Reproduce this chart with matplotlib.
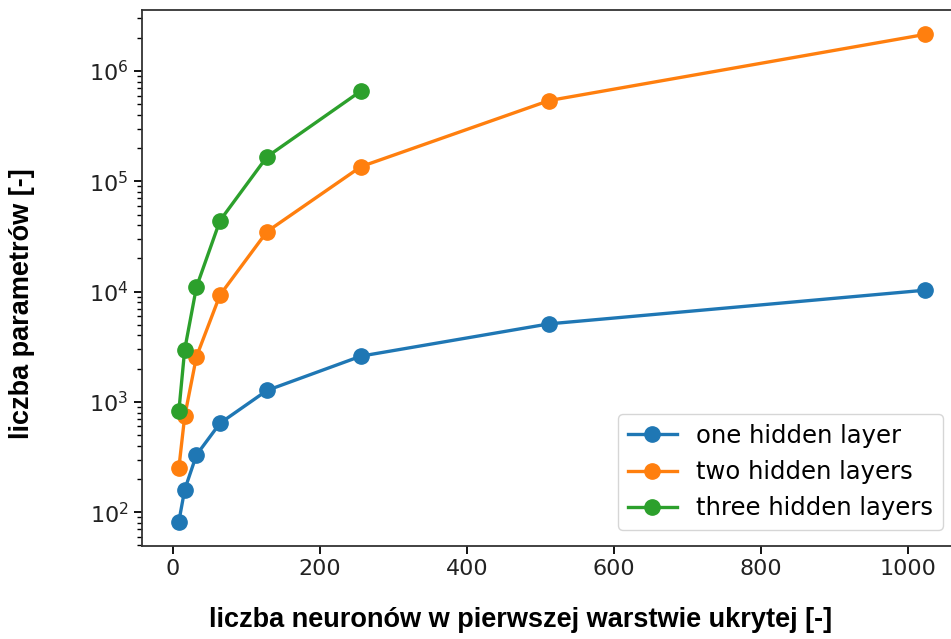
import matplotlib.pyplot as plt

neurons = [8, 16, 32, 64, 128, 256, 512, 1024]
one_layer = [82, 160, 330, 640, 1270, 2600, 5100, 10300]
two_layers = [250, 740, 2570, 9300, 35000, 136000, 540000, 2150000]
three_neurons = [8, 16, 32, 64, 128, 256]
three_layers = [820, 2980, 11000, 44000, 167000, 660000]

fig = plt.figure(figsize=(9.51, 6.39), dpi=100)
# the right edge of the axes sits just past the image border, as in the original crop
ax = fig.add_axes([0.1488, 0.1455, 0.8633, 0.8388])

style = dict(marker='o', markersize=11, linewidth=2.4)
ax.plot(neurons, one_layer, label='one hidden layer', **style)
ax.plot(neurons, two_layers, label='two hidden layers', **style)
ax.plot(three_neurons, three_layers, label='three hidden layers', **style)

ax.set_yscale('log')
ax.tick_params(axis='both', which='major', labelsize=16, length=6, width=1.3,
               labelcolor='#222222')
ax.tick_params(axis='y', which='minor', length=3.5, width=1.0)
for s in ax.spines.values():
    s.set_linewidth(1.3)
    s.set_color('#333333')

ax.set_xlabel('liczba neuronów w pierwszej warstwie ukrytej [-]', fontsize=19.5,
              fontweight='bold', family='Liberation Sans', va='center')
ax.set_ylabel('liczba parametrów [-]', fontsize=19.5, fontweight='bold',
              family='Liberation Sans', va='center')
ax.xaxis.set_label_coords(521 / 951, 1 - 620 / 639, transform=fig.transFigure)
ax.yaxis.set_label_coords(22.5 / 951, 1 - 303.5 / 639, transform=fig.transFigure)

ax.legend(loc='lower right', bbox_to_anchor=(0.976, 0.03), borderaxespad=0,
          fontsize=17.5)

fig.savefig('out.png', dpi=100)
